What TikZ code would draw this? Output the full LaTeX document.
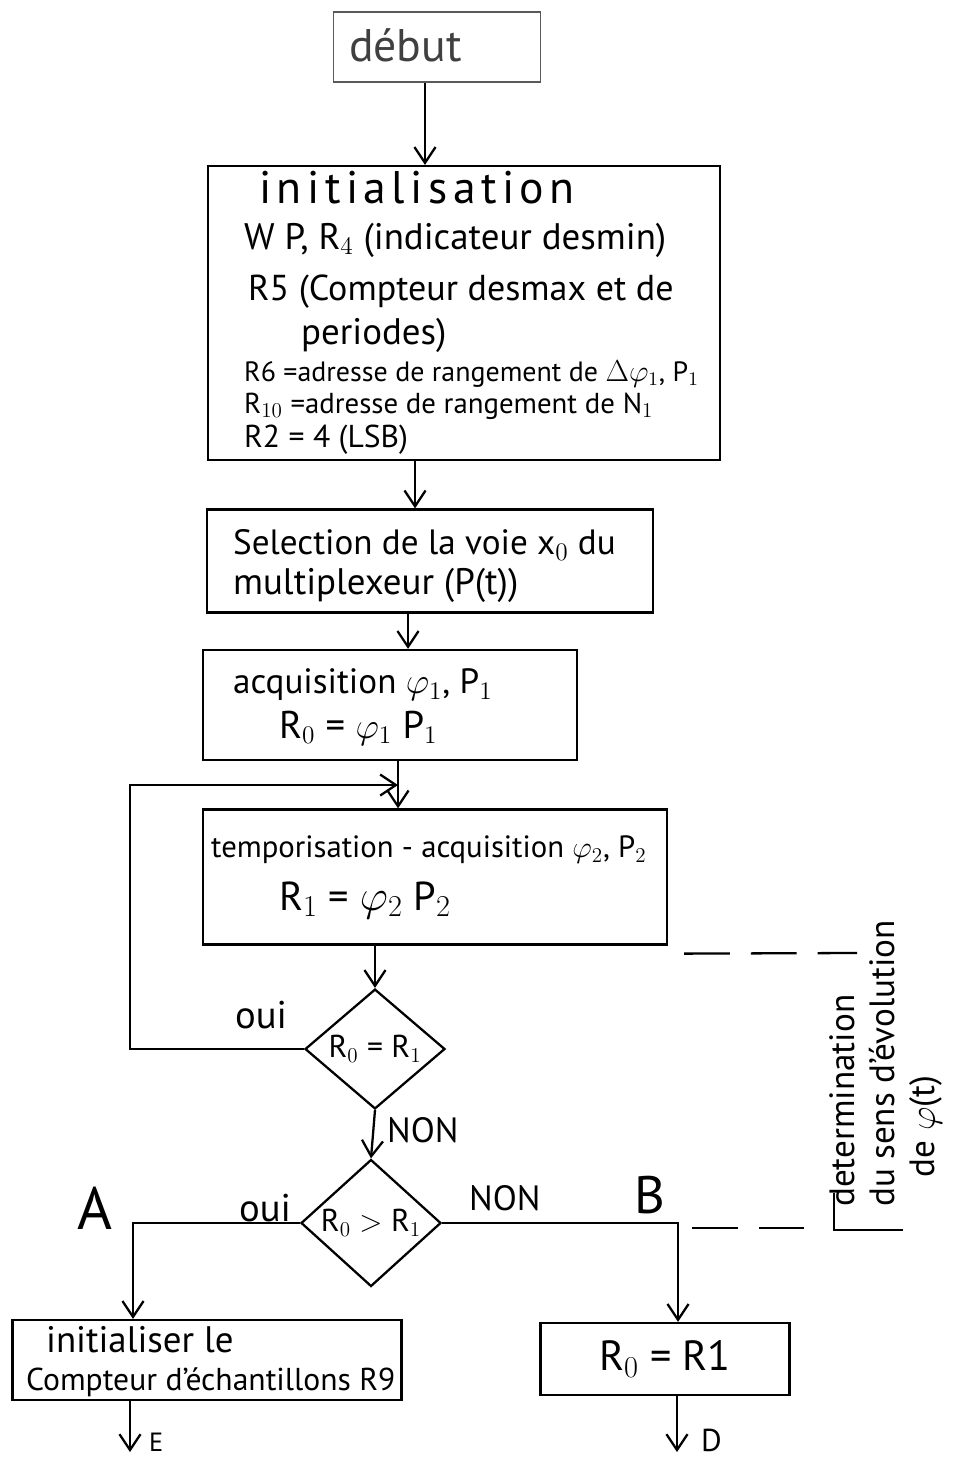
\documentclass[tikz,border=0pt]{standalone}
\usepackage{amsmath}
\usepackage{fontspec}
\setmainfont{PT Sans}
\newfontfamily\titre[LetterSpace=12]{PT Sans}
\usetikzlibrary{shapes.geometric, arrows.meta, positioning, calc}

\begin{document}
\begin{tikzpicture}[x=0.02cm, y=-0.02cm, line width=1.3pt,
    every node/.style={font=\fontsize{20}{22}\selectfont},
    boite/.style={draw, rectangle, inner sep=0pt},
    losange/.style={draw, diamond, inner sep=0pt, minimum width=2.8cm, minimum height=2.38cm,
                    font=\fontsize{18}{20}\selectfont},
    ligne/.style={right, inner sep=0pt},
    fleche/.style={-{Straight Barb[length=9pt, width=12pt]}},
    tirets/.style={dash pattern=on 26pt off 12pt}]
  \useasboundingbox (0,0) rectangle (962,1460);

  % boites du programme
  \node[boite, line width=0.7pt, draw=black!65, minimum width=4.14cm, minimum height=1.4cm] (debut) at (437,47) {};
  \node[ligne, font=\fontsize{26}{28}\selectfont, text=black!75] (debut-t) at (348,45) {début};

  \node[boite, minimum width=10.24cm, minimum height=5.88cm] (init) at (464,313) {};
  \node[ligne, font=\titre\fontsize{26}{28}\selectfont] (init-l1) at (258,188) {initialisation};
  \node[ligne, font=\fontsize{21}{22}\selectfont] (init-l2) at (243,240) {W P, R$_4$ (indicateur desmin)};
  \node[ligne, font=\fontsize{20.5}{22}\selectfont] (init-l3) at (247,292) {R5 (Compteur desmax et de};
  \node[ligne, font=\fontsize{21}{22}\selectfont] (init-l4) at (300,335) {periodes)};
  \node[ligne, font=\fontsize{15.9}{18}\selectfont] (init-l5) at (243,374) {R6 =adresse de rangement de $\Delta\varphi_1$, P$_1$};
  \node[ligne, font=\fontsize{16.4}{18}\selectfont] (init-l6) at (243,406) {R$_{10}$ =adresse de rangement de N$_1$};
  \node[ligne, font=\fontsize{18}{20}\selectfont] (init-l7) at (243,440) {R2 = 4 (LSB)};

  \node[boite, minimum width=8.92cm, minimum height=2.06cm] (sel) at (430,561) {};
  \node[ligne] (sel-l1) at (232,545) {Selection de la voie x$_0$ du};
  \node[ligne, font=\fontsize{21}{22}\selectfont] (sel-l2) at (232,585) {multiplexeur (P(t))};

  \node[boite, minimum width=7.48cm, minimum height=2.2cm] (acq) at (390,705) {};
  \node[ligne] (acq-l1) at (232,685) {acquisition $\varphi_1$, P$_1$};
  \node[ligne, font=\fontsize{22}{24}\selectfont] (acq-l2) at (278,728) {R$_0$ = $\varphi_1$ P$_1$};

  \node[boite, minimum width=9.28cm, minimum height=2.7cm] (temp) at (435,877) {};
  \node[ligne, font=\fontsize{17.5}{20}\selectfont] (temp-l1) at (210,850) {temporisation - acquisition $\varphi_2$, P$_2$};
  \node[ligne, font=\fontsize{23}{24}\selectfont] (temp-l2) at (278,900) {R$_1$ = $\varphi_2$ P$_2$};

  \node[losange] (test1) at (375,1049) {R$_0$ = R$_1$};
  \node[losange] (test2) at (371,1223) {R$_0$ $>$ R$_1$};

  \node[boite, minimum width=7.78cm, minimum height=1.6cm] (raz) at (207,1360) {};
  \node[ligne, font=\fontsize{21}{22}\selectfont] (raz-l1) at (45,1340) {initialiser le};
  \node[ligne, font=\fontsize{18}{20}\selectfont] (raz-l2) at (25,1382) {Compteur d'échantillons R9};

  \node[boite, minimum width=4.98cm, minimum height=1.44cm, font=\fontsize{24}{26}\selectfont] (copie) at (665,1359) {R$_0$ = R1};

  % liaisons
  \coordinate (jonction) at (398,785);
  \coordinate (A) at (133,1223);
  \coordinate (B) at (678,1223);
  \coordinate (sortieE) at (130,1452);
  \coordinate (sortieD) at (677,1452);
  \draw[fleche] (debut.south -| 425,0) -- (init.north -| 425,0);
  \draw[fleche] (init.south -| 415,0) -- (sel.north -| 415,0);
  \draw[fleche] (sel.south -| 408,0) -- (acq.north -| 408,0);
  \draw[fleche] (acq.south -| jonction) -- (temp.north -| jonction);
  \draw[fleche] (test1.west) -- (test1.west -| 130,0) |- (jonction);
  \draw[fleche] (temp.south -| test1.north) -- (test1.north);
  \draw[fleche] (test1.south) -- (test2.north);
  \draw[fleche] (test2.west) -- (A) -- (raz.north -| A);
  \draw[fleche] (test2.east) -- (B) -- (copie.north -| B);
  \draw[fleche] (raz.south -| sortieE) -- (sortieE);
  \draw[fleche] (copie.south -| sortieD) -- (sortieD);

  % etiquettes
  \node[ligne, font=\fontsize{22}{24}\selectfont] (oui1) at (234,1015) {oui};
  \node[ligne] (non1) at (386,1130) {NON};
  \node[ligne, font=\fontsize{22}{24}\selectfont] (oui2) at (238,1208) {oui};
  \node[ligne] (non2) at (468,1198) {NON};
  \node[font=\fontsize{34}{36}\selectfont] (lettreA) at (95,1208) {A};
  \node[font=\fontsize{30}{32}\selectfont] (lettreB) at (650,1195) {B};
  \node[ligne, font=\fontsize{15}{16}\selectfont] (lettreE) at (148,1442) {E};
  \node[ligne, font=\fontsize{18}{20}\selectfont] (lettreD) at (700,1440) {D};

  % determination du sens
  \coordinate (hautdroit) at (857,953);
  \draw[tirets] ($(temp.south east)+(16,8)$) -- (hautdroit);
  \draw[tirets] ($(B)+(14,5)$) -- (805,1228);
  \draw (834,1193) -- (834,1230) -- (903,1230);
  \node[rotate=90, anchor=north west, align=left, inner sep=0pt,
        font=\fontsize{20}{23}\selectfont] (note) at (828,1208)
    {determination\\du sens d'évolution\\\hspace{17pt}de $\varphi$(t)};
\end{tikzpicture}
\end{document}
